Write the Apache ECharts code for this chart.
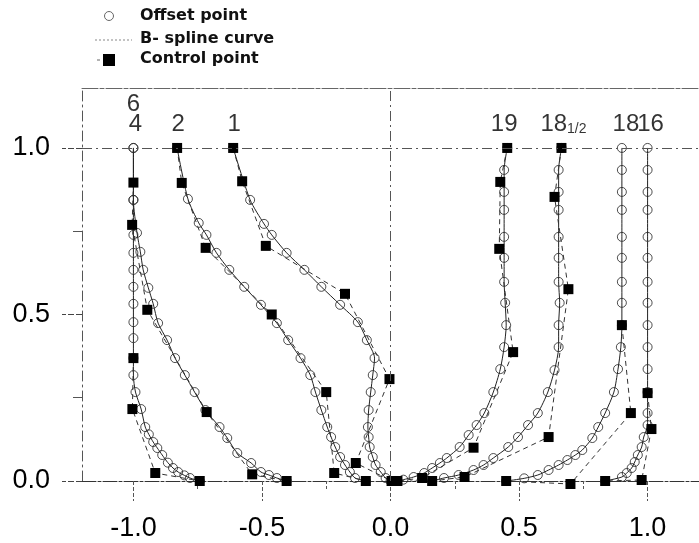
<!DOCTYPE html>
<html>
<head>
<meta charset="utf-8">
<title>Body plan sections</title>
<script src="https://cdn.jsdelivr.net/npm/echarts@6/dist/echarts.min.js"></script>
<style>
  html, body { margin: 0; padding: 0; background: #fff; }
  #chart { width: 699px; height: 543px; }
</style>
</head>
<body>
<div id="chart"></div>
<script>
// section names, left (aft) to right (fore)
var sectionNames = ['6', '4', '2', '1', '19', '18½', '18', '16'];

// offset points [half-breadth, height]
var offsets6 = [[-1, 1], [-1, 0.844], [-1, 0.739], [-1, 0.685], [-1, 0.634], [-1, 0.583], [-1, 0.532],
  [-1, 0.477], [-1, 0.429], [-1, 0.369], [-1, 0.318], [-0.992, 0.267], [-0.97, 0.216], [-0.954, 0.162],
  [-0.94, 0.14], [-0.923, 0.117], [-0.907, 0.099], [-0.888, 0.078], [-0.866, 0.055], [-0.846, 0.039],
  [-0.826, 0.027], [-0.802, 0.017], [-0.78, 0.009], [-0.742, 0]];
var offsets4 = [[-1, 1], [-1, 0.844], [-0.986, 0.745], [-0.973, 0.688], [-0.962, 0.634], [-0.942, 0.58],
  [-0.923, 0.532], [-0.904, 0.474], [-0.869, 0.423], [-0.838, 0.369], [-0.8, 0.318], [-0.762, 0.267],
  [-0.72, 0.213], [-0.665, 0.162], [-0.635, 0.129], [-0.596, 0.084], [-0.542, 0.054], [-0.504, 0.027],
  [-0.473, 0.018], [-0.442, 0.009], [-0.404, 0]];
var offsets2 = [[-0.83, 1], [-0.788, 0.847], [-0.746, 0.775], [-0.716, 0.739], [-0.677, 0.685],
  [-0.627, 0.634], [-0.569, 0.583], [-0.504, 0.529], [-0.442, 0.474], [-0.398, 0.423], [-0.35, 0.369],
  [-0.312, 0.318], [-0.292, 0.267], [-0.269, 0.213], [-0.246, 0.162], [-0.231, 0.132], [-0.215, 0.102],
  [-0.196, 0.072], [-0.177, 0.048], [-0.158, 0.027], [-0.138, 0.009], [-0.096, 0]];
var offsets1 = [[-0.612, 1], [-0.546, 0.844], [-0.492, 0.772], [-0.462, 0.739], [-0.404, 0.685],
  [-0.335, 0.634], [-0.269, 0.583], [-0.196, 0.529], [-0.127, 0.477], [-0.092, 0.423], [-0.062, 0.369],
  [-0.069, 0.318], [-0.077, 0.267], [-0.085, 0.213], [-0.088, 0.162], [-0.085, 0.132], [-0.081, 0.102],
  [-0.069, 0.072], [-0.058, 0.048], [-0.038, 0.027], [-0.019, 0.009], [0, 0]];
var offsets19 = [[0.454, 1], [0.442, 0.934], [0.442, 0.868], [0.442, 0.814], [0.442, 0.733], [0.442, 0.67],
  [0.442, 0.598], [0.446, 0.535], [0.45, 0.468], [0.442, 0.402], [0.427, 0.336], [0.4, 0.267],
  [0.365, 0.204], [0.335, 0.168], [0.304, 0.138], [0.269, 0.102], [0.219, 0.069], [0.192, 0.054],
  [0.162, 0.039], [0.131, 0.024], [0.09, 0.012], [0.05, 0.004], [0.02, 0]];
var offsets18h = [[0.665, 1], [0.654, 0.934], [0.654, 0.868], [0.654, 0.814], [0.654, 0.733], [0.654, 0.67],
  [0.654, 0.598], [0.658, 0.535], [0.654, 0.468], [0.654, 0.402], [0.638, 0.333], [0.612, 0.267],
  [0.573, 0.204], [0.535, 0.168], [0.496, 0.132], [0.458, 0.102], [0.4, 0.069], [0.362, 0.048],
  [0.323, 0.033], [0.265, 0.018], [0.208, 0.009], [0.162, 0]];
var offsets18 = [[0.9, 1], [0.9, 0.934], [0.9, 0.868], [0.9, 0.814], [0.9, 0.733], [0.9, 0.67], [0.9, 0.598],
  [0.9, 0.535], [0.9, 0.468], [0.896, 0.402], [0.885, 0.336], [0.869, 0.267], [0.835, 0.204],
  [0.808, 0.162], [0.785, 0.129], [0.746, 0.093], [0.719, 0.078], [0.688, 0.063], [0.654, 0.048],
  [0.615, 0.033], [0.573, 0.018], [0.52, 0.008], [0.45, 0]];
var offsets16 = [[1, 1], [1, 0.934], [1, 0.868], [1, 0.814], [1, 0.733], [1, 0.67], [1, 0.598], [1, 0.535],
  [1, 0.468], [1, 0.402], [1, 0.336], [1, 0.267], [1, 0.204], [1, 0.168], [0.985, 0.132], [0.977, 0.102],
  [0.962, 0.078], [0.95, 0.057], [0.938, 0.039], [0.919, 0.024], [0.9, 0.012], [0.835, 0]];

// B-spline control points
var control6 = [[-1, 0.369], [-1.004, 0.216], [-0.915, 0.024], [-0.742, 0]];
var control4 = [[-1, 0.896], [-1.005, 0.769], [-0.946, 0.514], [-0.715, 0.207], [-0.538, 0.02], [-0.404, 0]];
var control2 = [[-0.83, 1], [-0.812, 0.895], [-0.719, 0.7], [-0.462, 0.5], [-0.25, 0.267], [-0.219, 0.024], [-0.096, 0]];
var control1 = [[-0.612, 1], [-0.577, 0.9], [-0.485, 0.706], [-0.177, 0.562], [-0.004, 0.306], [-0.135, 0.054], [0.004, 0]];
var control19 = [[0.454, 1], [0.427, 0.898], [0.423, 0.697], [0.477, 0.387], [0.323, 0.1], [0.123, 0.009], [0.027, 0]];
var control18h = [[0.665, 1], [0.638, 0.853], [0.692, 0.576], [0.615, 0.132], [0.288, 0.012], [0.162, 0]];
var control18 = [[0.9, 0.468], [0.935, 0.204], [0.7, -0.009], [0.45, 0]];
var control16 = [[1, 0.264], [1.015, 0.156], [0.977, 0.003], [0.835, 0]];

var offsetSets = [offsets6, offsets4, offsets2, offsets1, offsets19, offsets18h, offsets18, offsets16];
var controlSets = [control6, control4, control2, control1, control19, control18h, control18, control16];

var xTicks = [-1.0, -0.5, 0.0, 0.5, 1.0];
var xMinorTicks = [-0.75, -0.25, 0.25, 0.75];
var yTicks = [0.0, 0.5, 1.0];
var yMinorTicks = [0.25, 0.75];

var labelShift = {
  '6': [0, -44], '4': [2, -24], '2': [1, -24], '1': [1, -24],
  '19': [-3, -24], '18½': [2, -24], '18': [4, -24], '16': [3, -24]
};

var dashDot = [10, 4, 2, 4];
var chart = echarts.init(document.getElementById('chart'));
var series = [];

sectionNames.forEach(function (name, i) {
  series.push({
    name: 'B- spline curve ' + name,
    type: 'line',
    data: offsetSets[i],
    smooth: 0.25,
    symbol: 'none',
    clip: false,
    lineStyle: { color: '#222', width: 1 },
    z: 2
  });
});
sectionNames.forEach(function (name, i) {
  series.push({
    name: 'Offset point ' + name,
    type: 'scatter',
    data: offsetSets[i],
    symbol: 'circle',
    symbolSize: 9,
    clip: false,
    itemStyle: { color: 'rgba(0,0,0,0)', borderColor: '#222', borderWidth: 1 },
    z: 3
  });
});
sectionNames.forEach(function (name, i) {
  series.push({
    name: 'Control point ' + name,
    type: 'line',
    data: controlSets[i],
    symbol: 'rect',
    symbolSize: 10,
    showAllSymbol: true,
    clip: false,
    itemStyle: { color: '#000', borderWidth: 0 },
    lineStyle: { color: '#333', width: 1, type: [5, 4] },
    z: 4
  });
});

// section names above the top of each section
series.push({
  name: 'section names',
  type: 'scatter',
  symbol: 'circle',
  symbolSize: 1,
  itemStyle: { color: 'rgba(255,255,255,0)' },
  clip: false,
  data: sectionNames.map(function (name, i) {
    return {
      value: offsetSets[i][0],
      name: name,
      label: { offset: labelShift[name] }
    };
  }),
  label: {
    show: true,
    position: 'inside',
    color: '#000',
    fontFamily: 'Liberation Sans',
    fontSize: 24,
    formatter: function (p) {
      return p.name === '18½' ? '{n|18}{s|1/2}' : p.name;
    },
    rich: {
      n: { fontSize: 24, fontFamily: 'Liberation Sans', color: '#000' },
      s: { fontSize: 14, fontFamily: 'Liberation Sans', color: '#000', verticalAlign: 'bottom' }
    }
  },
  z: 5
});

// reference lines: centre line and height 1.0
series[0].markLine = {
  silent: true,
  symbol: 'none',
  label: { show: false },
  lineStyle: { color: '#555', width: 1, type: dashDot },
  data: [{ xAxis: 0 }, { yAxis: 1 }]
};

var labelFont = { fontFamily: 'Liberation Sans', fontSize: 27, color: '#000' };

option = {
  animation: false,
  backgroundColor: '#fff',
  grid: { left: 82, top: 88, width: 624, height: 393 },
  xAxis: [{
    type: 'value', min: -1.2, max: 1.2, position: 'bottom',
    axisLine: { show: true, onZero: false, lineStyle: { color: '#333', width: 1, type: [14, 2, 3, 2] } },
    axisTick: { show: true, customValues: xTicks, length: 20, lineStyle: { color: '#555', type: [4, 2] } },
    axisLabel: Object.assign({
      customValues: xTicks, margin: 34,
      formatter: function (v) { return v.toFixed(1); }
    }, labelFont),
    splitLine: { show: false }
  }, {
    type: 'value', min: -1.2, max: 1.2, position: 'bottom',
    axisLine: { show: false, onZero: false },
    axisTick: { show: true, customValues: xMinorTicks, length: 10, lineStyle: { color: '#555', type: [3, 2] } },
    axisLabel: { show: false },
    splitLine: { show: false }
  }, {
    type: 'value', min: -1.2, max: 1.2, position: 'top',
    axisLine: { show: true, onZero: false, lineStyle: { color: '#666', width: 1, type: [16, 2, 4, 2] } },
    axisTick: { show: false },
    axisLabel: { show: false },
    splitLine: { show: false }
  }],
  yAxis: [{
    type: 'value', min: 0, max: 1.18, position: 'left',
    axisLine: { show: true, onZero: false, lineStyle: { color: '#555', width: 1, type: dashDot } },
    axisTick: { show: true, customValues: yTicks, length: 20, lineStyle: { color: '#444', type: [6, 2] } },
    axisLabel: Object.assign({
      customValues: yTicks, margin: 32,
      formatter: function (v) { return v.toFixed(1); }
    }, labelFont),
    splitLine: { show: false }
  }, {
    type: 'value', min: 0, max: 1.18, position: 'left',
    axisLine: { show: false, onZero: false },
    axisTick: { show: true, customValues: yMinorTicks, length: 9, lineStyle: { color: '#555' } },
    axisLabel: { show: false },
    splitLine: { show: false }
  }],
  graphic: [
    { type: 'circle', shape: { cx: 109, cy: 16, r: 4.5 }, style: { fill: 'none', stroke: '#666', lineWidth: 1 } },
    { type: 'text', x: 140, y: 16, style: { text: 'Offset point', font: 'bold 16px "DejaVu Sans"', fill: '#111', verticalAlign: 'middle' } },
    { type: 'line', shape: { x1: 95, y1: 40, x2: 132, y2: 40 }, style: { stroke: '#888', lineWidth: 1, lineDash: [2, 2] } },
    { type: 'text', x: 140, y: 39, style: { text: 'B- spline curve', font: 'bold 16px "DejaVu Sans"', fill: '#111', verticalAlign: 'middle' } },
    { type: 'line', shape: { x1: 97, y1: 60, x2: 100, y2: 60 }, style: { stroke: '#666', lineWidth: 1 } },
    { type: 'rect', shape: { x: 103, y: 54, width: 12, height: 12 }, style: { fill: '#000' } },
    { type: 'text', x: 140, y: 59, style: { text: 'Control point', font: 'bold 16px "DejaVu Sans"', fill: '#111', verticalAlign: 'middle' } }
  ],
  series: series
};

chart.setOption(option);
</script>
</body>
</html>
